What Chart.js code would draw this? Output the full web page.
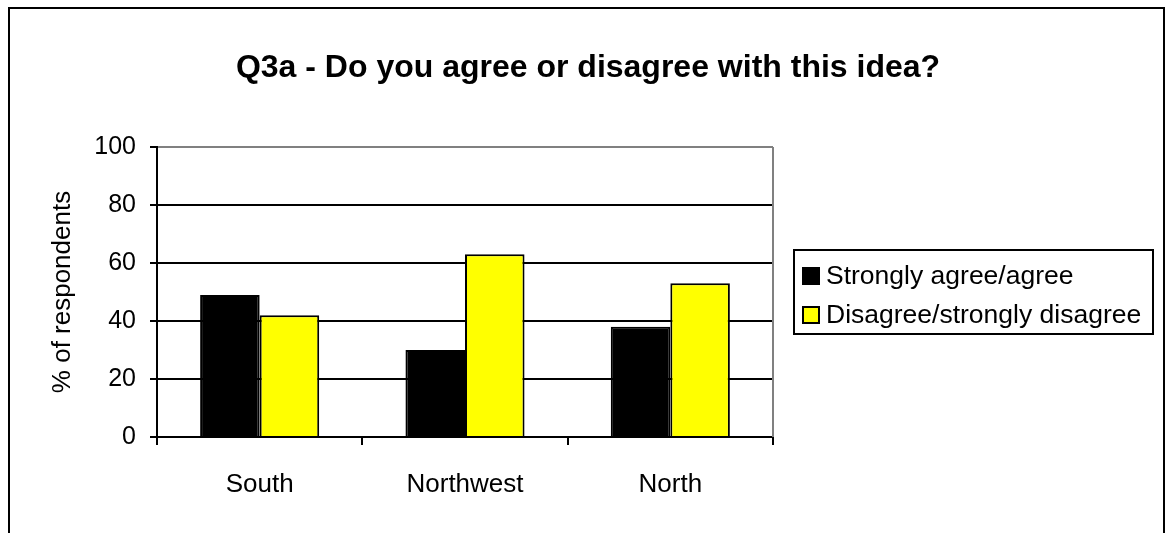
<!DOCTYPE html>
<html>
<head>
<meta charset="utf-8">
<title>Q3a - Do you agree or disagree with this idea?</title>
<script src="https://cdn.jsdelivr.net/npm/chart.js@4.4.1/dist/chart.umd.min.js"></script>
<style>
  html, body { margin: 0; padding: 0; background: #fff; }
  #wrap { width: 1170px; height: 533px; position: relative; }
</style>
</head>
<body>
<div id="wrap"><canvas id="q3aChart"></canvas></div>
<script>
// --- data ---
const regions = ['South', 'Northwest', 'North'];
const agreeValues = [49, 30, 38];
const disagreeValues = [42, 63, 53];
const seriesNames = ['Strongly agree/agree', 'Disagree/strongly disagree'];
const seriesColors = ['#000000', '#ffff00'];
const yTickValues = [0, 20, 40, 60, 80, 100];
const titleText = 'Q3a - Do you agree or disagree with this idea?';
const yAxisTitle = '% of respondents';

const FONT = "'Liberation Sans', Arial, Helvetica, sans-serif";

// outer frame, heading, plot frame edge and the boxed legend
const decorations = {
  id: 'decorations',
  afterDraw(chart) {
    const ctx = chart.ctx;
    const area = chart.chartArea;
    ctx.save();

    // frame round the chart, open at the bottom
    ctx.strokeStyle = '#000';
    ctx.lineWidth = 2;
    ctx.beginPath();
    ctx.moveTo(9, 533);
    ctx.lineTo(9, 8);
    ctx.lineTo(1164, 8);
    ctx.lineTo(1164, 533);
    ctx.stroke();

    // right edge of the plot frame (grey, like the top)
    ctx.strokeStyle = '#808080';
    ctx.beginPath();
    ctx.moveTo(area.right, area.top);
    ctx.lineTo(area.right, area.bottom);
    ctx.stroke();

    // heading
    ctx.fillStyle = '#000';
    ctx.font = 'bold 32px ' + FONT;
    ctx.textAlign = 'center';
    ctx.textBaseline = 'middle';
    ctx.fillText(titleText, 588, 68);

    // legend
    const box = { left: 794, top: 250, right: 1153, bottom: 334 };
    ctx.strokeStyle = '#000';
    ctx.lineWidth = 2;
    ctx.strokeRect(box.left, box.top, box.right - box.left, box.bottom - box.top);
    ctx.font = '26.5px ' + FONT;
    ctx.textAlign = 'left';
    chart.data.datasets.forEach((ds, i) => {
      const cy = 276 + i * 39;
      ctx.fillStyle = ds.backgroundColor;
      ctx.fillRect(803, cy - 8, 16, 16);
      ctx.lineWidth = 2;
      ctx.strokeRect(803, cy - 8, 16, 16);
      ctx.fillStyle = '#000';
      ctx.fillText(ds.label, 826, cy + 1);
    });

    ctx.restore();
  }
};

new Chart(document.getElementById('q3aChart'), {
  type: 'bar',
  data: {
    labels: regions,
    datasets: [
      {
        label: seriesNames[0],
        data: agreeValues,
        backgroundColor: seriesColors[0],
        borderColor: '#000',
        borderWidth: 2
      },
      {
        label: seriesNames[1],
        data: disagreeValues,
        backgroundColor: seriesColors[1],
        borderColor: '#000',
        borderWidth: 2
      }
    ]
  },
  options: {
    responsive: true,
    maintainAspectRatio: false,
    animation: false,
    layout: { padding: { left: 0, top: 147, right: 397, bottom: 0 } },
    datasets: {
      bar: { barPercentage: 1, categoryPercentage: 0.58 }
    },
    plugins: {
      legend: { display: false },
      title: { display: false },
      tooltip: { enabled: false }
    },
    scales: {
      x: {
        afterFit(scale) { scale.height = 96; },
        border: { color: '#000', width: 2 },
        grid: {
          offset: true,
          drawOnChartArea: false,
          color: '#000',
          lineWidth: 2,
          tickLength: 8
        },
        ticks: {
          color: '#000',
          font: { family: FONT, size: 26 },
          padding: 24
        }
      },
      y: {
        min: 0,
        max: 100,
        afterFit(scale) { scale.width = 157; },
        afterBuildTicks(scale) {
          scale.ticks = yTickValues.map(v => ({ value: v }));
        },
        border: { color: '#000', width: 2 },
        grid: {
          color: ctx => (ctx.tick && ctx.tick.value === 100 ? '#808080' : '#000'),
          tickColor: '#000',
          lineWidth: 2,
          tickLength: 7
        },
        ticks: {
          color: '#000',
          font: { family: FONT, size: 25 },
          padding: 14
        },
        title: {
          display: true,
          text: yAxisTitle,
          color: '#000',
          font: { family: FONT, size: 26 },
          padding: { top: 47, bottom: 0 }
        }
      }
    }
  },
  plugins: [decorations]
});
</script>
</body>
</html>
